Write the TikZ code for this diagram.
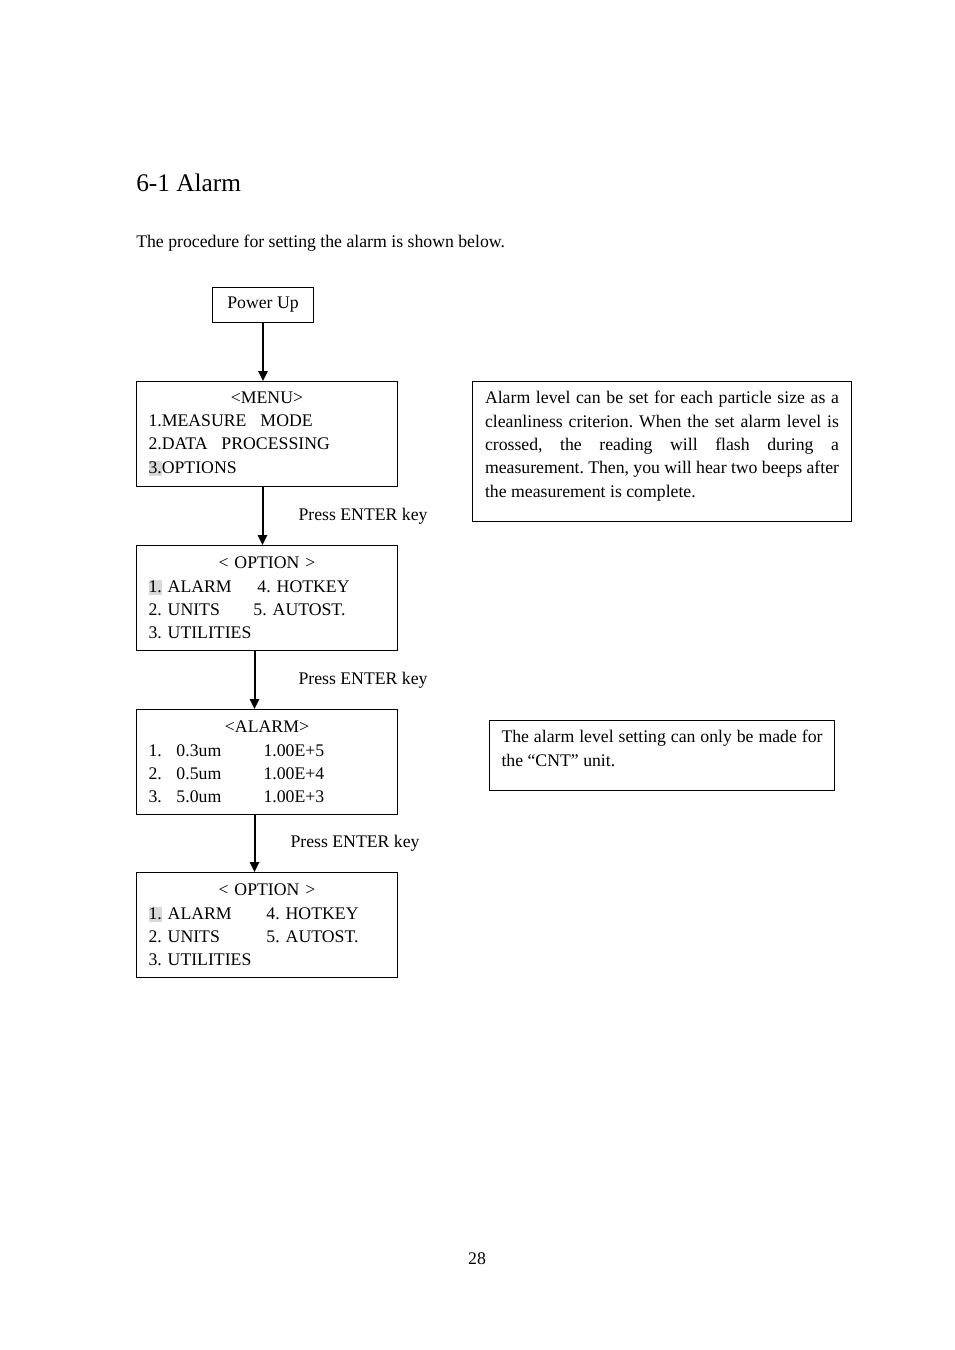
\documentclass[tikz,border=0pt]{standalone}
\usepackage{fontspec}
\setmainfont{Liberation Serif}
\usetikzlibrary{arrows.meta,positioning}
\frenchspacing
\newcommand{\keyhl}[1]{{\setlength{\fboxsep}{0pt}\colorbox{black!15}{\rule[-2.5pt]{0pt}{11.5pt}#1}}}

\begin{document}
\begin{tikzpicture}[
    x=0.75pt, y=-0.75pt,
    txt/.style={font=\fontsize{13.3}{17.5}\selectfont},
    screen/.style={draw, line width=0.75pt, anchor=north west, txt, align=left, inner xsep=9pt, inner ysep=0pt, text width=177.75pt, minimum width=195.75pt, minimum height=78.75pt},
    note/.style={draw, line width=0.75pt, anchor=north west, txt, inner ysep=7.5pt},
    enter/.style={txt, inner sep=0pt, anchor=west},
    arrow/.style={-{Triangle[length=7.5pt,width=7pt]}, line width=1.5pt}
  ]
    \fill[white] (0,0) rectangle (954,1350);
    \useasboundingbox (0,0) rectangle (954,1350);
    \node[anchor=base west, inner sep=0pt, font=\fontsize{19}{23}\selectfont] (title) at (136,191) {6-1 Alarm};
    \node[anchor=base west, inner sep=0pt, txt] (intro) at (136,247) {The procedure for setting the alarm is shown below.};
    \node[draw, line width=0.75pt, anchor=north west, txt, minimum width=75.75pt, minimum height=26.25pt] (power) at (212,287) {Power Up};
    \node[screen] (menu) at (136,381) {\makebox[\linewidth]{<MENU>}\\
      \makebox[84pt][l]{1.MEASURE}MODE\\
      \makebox[54.75pt][l]{2.DATA}PROCESSING\\
      \keyhl{3.}OPTIONS};
    \node[screen] (opta) at (136,545) {\makebox[\linewidth]{< OPTION >}\\
      \makebox[81.75pt][l]{\keyhl{1.} ALARM}4. HOTKEY\\
      \makebox[78.75pt][l]{2. UNITS}5. AUTOST.\\
      3. UTILITIES};
    \node[screen] (alarm) at (136,709) {\makebox[\linewidth]{<ALARM>}\\
      \makebox[21pt][l]{1.}\makebox[65.25pt][l]{0.3um}1.00E+5\\
      \makebox[21pt][l]{2.}\makebox[65.25pt][l]{0.5um}1.00E+4\\
      \makebox[21pt][l]{3.}\makebox[65.25pt][l]{5.0um}1.00E+3};
    \node[screen] (optb) at (136,872) {\makebox[\linewidth]{< OPTION >}\\
      \makebox[88.5pt][l]{\keyhl{1.} ALARM}4. HOTKEY\\
      \makebox[88.5pt][l]{2. UNITS}5. AUTOST.\\
      3. UTILITIES};
    \node[note, inner xsep=9.375pt] (crit) at (472,381) {\parbox[c][90pt][t]{265.5pt}{Alarm level can be set for each particle size as a\linebreak
      cleanliness criterion. When the set alarm level is\linebreak
      crossed, the reading will flash during a\linebreak
      measurement. Then, you will hear two beeps after\linebreak
      the measurement is complete.}};
    \node[note, inner xsep=9pt] (cnt) at (489,720) {\parbox[c][37.5pt][t]{240.75pt}{The alarm level setting can only be made for\linebreak
      the “CNT” unit.}};
    \node[anchor=base, inner sep=0pt, txt] (page) at (477,1264) {28};
    \draw[arrow] (power.south) -- (power.south |- menu.north);
    \draw[arrow] ([xshift=-3.375pt]menu.south) -- ([xshift=-3.375pt]opta.north)
      node[enter, midway, right=26.25pt] {Press ENTER key};
    \draw[arrow] ([xshift=-9.375pt]opta.south) -- ([xshift=-9.375pt]alarm.north)
      node[enter, midway, right=32.25pt] {Press ENTER key};
    \draw[arrow] ([xshift=-9.375pt]alarm.south) -- ([xshift=-9.375pt]optb.north)
      node[enter, midway, right=26.25pt] {Press ENTER key};
  \end{tikzpicture}
\end{document}
